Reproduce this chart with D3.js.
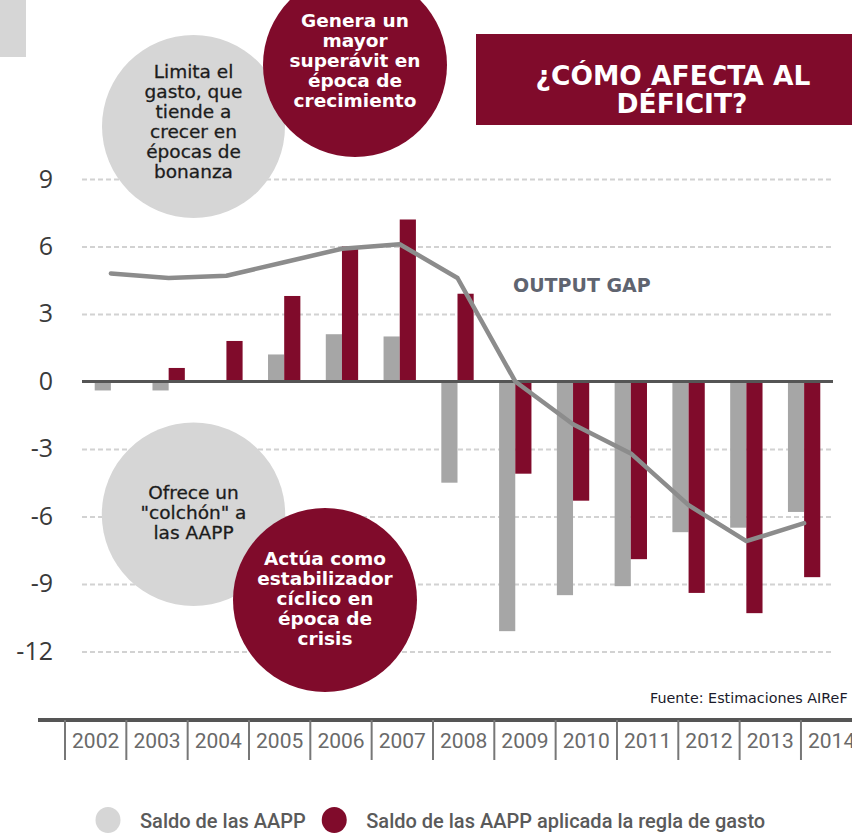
<!DOCTYPE html>
<html><head><meta charset="utf-8">
<script src="https://cdn.jsdelivr.net/npm/d3@7"></script>
<style>body{margin:0;background:#fff;} svg{display:block}</style>
</head><body>
<svg id="chart" width="852" height="833"></svg>
<script>
// ---------- data ----------
const years = ["2002","2003","2004","2005","2006","2007","2008","2009","2010","2011","2012","2013","2014"];
const saldo = [-0.4,-0.4,0,1.2,2.1,2.0,-4.5,-11.1,-9.5,-9.1,-6.7,-6.5,-5.8];
const saldoRegla = [0,0.6,1.8,3.8,6.0,7.2,3.9,-4.1,-5.3,-7.9,-9.4,-10.3,-8.7];
const outputGap = [4.8,4.6,4.7,5.3,5.9,6.1,4.6,0,-1.9,-3.2,-5.5,-7.1,-6.3];
const yTicks = [9,6,3,0,-3,-6,-9,-12];
const seriesNames = ["Saldo de las AAPP","Saldo de las AAPP aplicada la regla de gasto"];
const titleLines = ["¿CÓMO AFECTA AL","DÉFICIT?"];
const lineLabel = "OUTPUT GAP";
const sourceText = "Fuente: Estimaciones AIReF";
const notes = [
  ["Limita el","gasto, que","tiende a","crecer en","épocas de","bonanza"],
  ["Genera un","mayor","superávit en","época de","crecimiento"],
  ["Ofrece un","\"colchón\" a","las AAPP"],
  ["Actúa como","estabilizador","cíclico en","época de","crisis"]
];

// ---------- styles / layout ----------
const RED = "#800b2b", GRAYBAR = "#a6a6a6", CIRCLEGRAY = "#d6d6d6";
const colors = [GRAYBAR, RED];
const svg = d3.select("#chart");
const plotL = 82, plotR = 833;

const x = d3.scaleBand().domain(years).range([plotL, plotR]).paddingInner(0.44).paddingOuter(0.22);
const xs = d3.scaleBand().domain([0,1]).range([0, x.bandwidth()]);
const y = d3.scaleLinear().domain([-12, 9]).range([651.4, 179]);
const xYear = d3.scaleBand().domain(years).range([65, 65 + 13*61.33]);

// top-left decoration
svg.append("rect").attr("x",0).attr("y",0).attr("width",26).attr("height",57).attr("fill",CIRCLEGRAY);

// title box
svg.append("rect").attr("x",476).attr("y",34).attr("width",852-476).attr("height",91).attr("fill",RED);
svg.append("text").attr("x",673).attr("y",85).attr("text-anchor","middle")
  .attr("font-family","DejaVu Sans").attr("font-weight","bold").attr("font-size",26.5).attr("fill","#fff")
  .text(titleLines[0]);
svg.append("text").attr("x",682).attr("y",113).attr("text-anchor","middle")
  .attr("font-family","DejaVu Sans").attr("font-weight","bold").attr("font-size",26.5).attr("fill","#fff")
  .text(titleLines[1]);

// gridlines
const grid = svg.append("g").attr("transform",`translate(${plotL},0)`)
  .call(d3.axisLeft(y).tickValues(yTicks.filter(d=>d!==0)).tickSize(-(plotR-plotL)).tickFormat(""));
grid.select(".domain").remove();
grid.selectAll("line").attr("stroke","#d2d2d2").attr("stroke-width",2).attr("stroke-dasharray","5,3");

// y labels
const yAx = svg.append("g").attr("transform","translate(53,0)")
  .call(d3.axisLeft(y).tickValues(yTicks).tickSize(0).tickPadding(0).tickFormat(d=>d));
yAx.select(".domain").remove();
yAx.selectAll("text").attr("font-family","Open Sans").attr("font-size",25).attr("fill","#3a3a3a");

// bars
const series = [saldo, saldoRegla];
series.forEach((vals,si)=>{
  svg.append("g").selectAll("rect").data(vals).join("rect")
    .attr("x",(d,i)=>x(years[i]) + xs(si))
    .attr("width",xs.bandwidth())
    .attr("y",d=>y(Math.max(0,d)))
    .attr("height",d=>Math.abs(y(d)-y(0)))
    .attr("fill",colors[si]);
});

// zero line
svg.append("line").attr("x1",plotL).attr("x2",plotR).attr("y1",y(0)).attr("y2",y(0))
  .attr("stroke","#555").attr("stroke-width",3);

// output gap line
const line = d3.line().x((d,i)=>x(years[i]) + x.bandwidth()/2).y(d=>y(d));
svg.append("path").datum(outputGap).attr("d",line).attr("fill","none")
  .attr("stroke","#8c8c8c").attr("stroke-width",4.5).attr("stroke-linejoin","round").attr("stroke-linecap","round");

svg.append("text").attr("x",513).attr("y",292).attr("font-family","DejaVu Sans").attr("font-weight","bold")
  .attr("font-size",19).attr("fill","#5f6470").text(lineLabel);

// annotation circles
const circ = [
  {cx:193.5, cy:126.5, r:91.5, fill:CIRCLEGRAY, color:"#1c1c1c", bold:false, y0:78},
  {cx:355, cy:65, r:92, fill:RED, color:"#fff", bold:true, y0:27},
  {cx:193.5, cy:514.3, r:91.7, fill:CIRCLEGRAY, color:"#1c1c1c", bold:false, y0:499},
  {cx:325, cy:600, r:92, fill:RED, color:"#fff", bold:true, y0:565}
];
[0,2,1,3].forEach(k=>{
  const c = circ[k];
  svg.append("circle").attr("cx",c.cx).attr("cy",c.cy).attr("r",c.r).attr("fill",c.fill);
  const t = svg.append("text").attr("text-anchor","middle").attr("font-family","DejaVu Sans")
    .attr("font-weight",c.bold?"bold":"normal").attr("font-size",18.5).attr("fill",c.color);
  if(!c.bold) t.attr("stroke",c.color).attr("stroke-width",0.3);
  notes[k].forEach((ln,j)=>{
    t.append("tspan").attr("x",c.cx).attr("y",c.y0 + j*20).text(ln);
  });
});

// source
svg.append("text").attr("x",650).attr("y",703).attr("font-family","DejaVu Sans").attr("font-size",14.3)
  .attr("fill","#1a1a2a").text(sourceText);

// bottom axis
svg.append("line").attr("x1",38).attr("x2",852).attr("y1",720).attr("y2",720).attr("stroke","#555").attr("stroke-width",4);
svg.append("g").selectAll("line").data(years).join("line")
  .attr("x1",d=>xYear(d)).attr("x2",d=>xYear(d)).attr("y1",720).attr("y2",760)
  .attr("stroke","#777").attr("stroke-width",2);
const xAx = svg.append("g").attr("transform","translate(0,720)")
  .call(d3.axisBottom(xYear).tickSize(0));
xAx.select(".domain").remove();
xAx.selectAll("text").attr("y",28).attr("dy",0).attr("font-family","Roboto").attr("font-size",21).attr("fill","#6a6a6a");

// legend
const lg = svg.append("g");
let lx = 108;
seriesNames.forEach((nm,i)=>{
  lg.append("ellipse").attr("cx",lx).attr("cy",820).attr("rx",12.5).attr("ry",13).attr("fill",i?RED:CIRCLEGRAY);
  const tt = lg.append("text").attr("x",lx+32).attr("y",828).attr("font-family","Roboto").attr("font-weight",500)
    .attr("font-size",20).attr("fill","#5a5a5a").text(nm);
  lx = lx + 32 + tt.node().getComputedTextLength() + 28.5;
});
</script>
</body></html>
